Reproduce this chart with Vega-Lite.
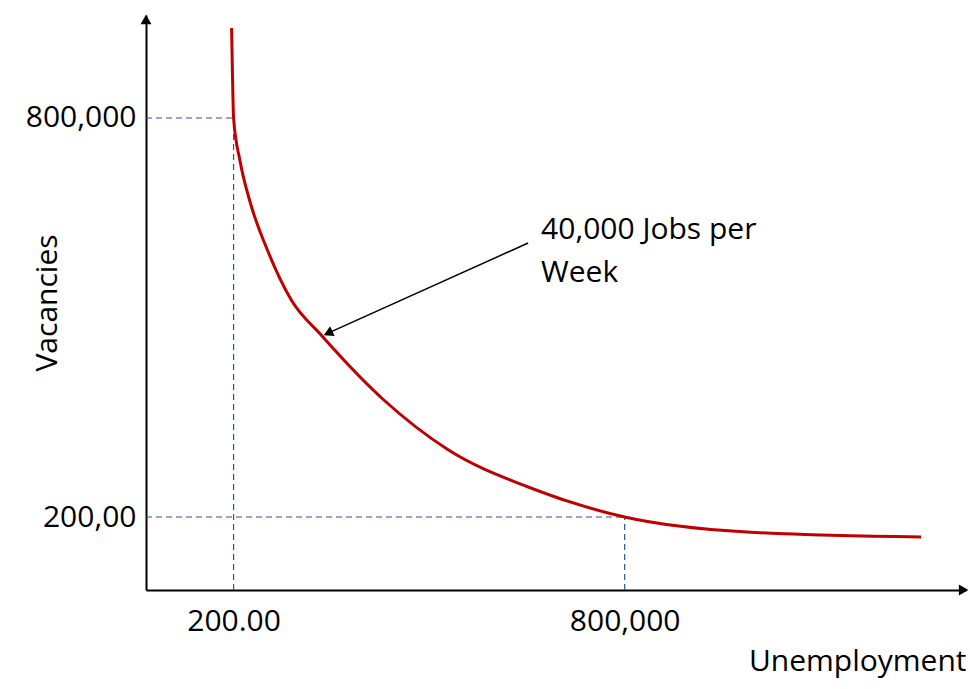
{
  "$schema": "https://vega.github.io/schema/vega-lite/v6.json",
  "width": 820,
  "height": 575,
  "autosize": "none",
  "padding": {"left": 146, "top": 15, "right": 4, "bottom": 99},
  "background": "white",
  "config": {"view": {"stroke": null}, "font": "Open Sans"},
  "datasets": {
    "curve": [
      {"u": 196947, "v": 935338},
      {"u": 198473, "v": 857143},
      {"u": 200000, "v": 800000},
      {"u": 210000, "v": 735000},
      {"u": 224427, "v": 676692},
      {"u": 251908, "v": 601504},
      {"u": 288550, "v": 526316},
      {"u": 334351, "v": 473684},
      {"u": 430534, "v": 375940},
      {"u": 529771, "v": 300752},
      {"u": 651908, "v": 245113},
      {"u": 800000, "v": 200000},
      {"u": 987786, "v": 177444},
      {"u": 1254962, "v": 169925}
    ],
    "guides": [
      {"u": 200000, "v": 90226, "u2": 200000, "v2": 800000},
      {"u": 65650, "v": 800000, "u2": 200000, "v2": 800000},
      {"u": 800000, "v": 90226, "u2": 800000, "v2": 200000},
      {"u": 65650, "v": 200000, "u2": 800000, "v2": 200000}
    ]
  },
  "layer": [
    {
      "data": {"name": "guides"},
      "mark": {"type": "rule", "color": "#2f4f9f", "strokeDash": [6, 4], "strokeWidth": 1.2},
      "encoding": {
        "x": {"field": "u", "type": "quantitative", "scale": {"domain": [65650, 1323664], "nice": false, "zero": false},
          "axis": {"values": [200000, 800000], "labelExpr": "datum.value == 200000 ? '200.00' : '800,000'", "labelFontSize": 30, "labelColor": "black", "labelPadding": 16, "ticks": false, "grid": false, "domainColor": "black", "domainWidth": 2,
            "title": "Unemployment", "titleFontSize": 30, "titleFontWeight": "normal", "titleAnchor": "end", "titleAlign": "right", "titleX": 820, "titleY": 56, "titleBaseline": "top", "titleColor": "black"}},
        "y": {"field": "v", "type": "quantitative", "scale": {"domain": [90226, 954887], "nice": false, "zero": false},
          "axis": {"values": [200000, 800000], "labelExpr": "datum.value == 200000 ? '200,00' : '800,000'", "labelFontSize": 30, "labelColor": "black", "labelPadding": 10, "ticks": false, "grid": false, "domainColor": "black", "domainWidth": 2,
            "title": "Vacancies", "titleFontSize": 30, "titleFontWeight": "normal", "titleX": -84, "titleColor": "black"}},
        "x2": {"field": "u2"},
        "y2": {"field": "v2"}
      }
    },
    {
      "data": {"name": "curve"},
      "mark": {"type": "line", "color": "#c00000", "strokeWidth": 3, "interpolate": "monotone"},
      "encoding": {
        "x": {"field": "u", "type": "quantitative"},
        "y": {"field": "v", "type": "quantitative"}
      }
    },
    {
      "data": {"values": [{"u": 651908, "v": 612030, "u2": 345000, "v2": 476500}]},
      "mark": {"type": "rule", "color": "black", "strokeWidth": 1.5},
      "encoding": {
        "x": {"field": "u", "type": "quantitative"},
        "y": {"field": "v", "type": "quantitative"},
        "x2": {"field": "u2"},
        "y2": {"field": "v2"}
      }
    },
    {
      "data": {"values": [
        {"u": 345000, "v": 476500, "a": 245},
        {"u": 1320000, "v": 90226, "a": 90},
        {"u": 65650, "v": 948000, "a": 0}
      ]},
      "mark": {"type": "point", "shape": "triangle-up", "filled": true, "color": "black", "size": 120, "opacity": 1},
      "encoding": {
        "x": {"field": "u", "type": "quantitative"},
        "y": {"field": "v", "type": "quantitative"},
        "angle": {"field": "a", "type": "quantitative", "scale": null}
      }
    },
    {
      "data": {"values": [
        {"u": 671756, "v": 631579, "t": "40,000 Jobs per"},
        {"u": 671756, "v": 566917, "t": "Week"}
      ]},
      "mark": {"type": "text", "align": "left", "baseline": "middle", "fontSize": 30, "color": "black"},
      "encoding": {
        "x": {"field": "u", "type": "quantitative"},
        "y": {"field": "v", "type": "quantitative"},
        "text": {"field": "t"}
      }
    }
  ]
}
